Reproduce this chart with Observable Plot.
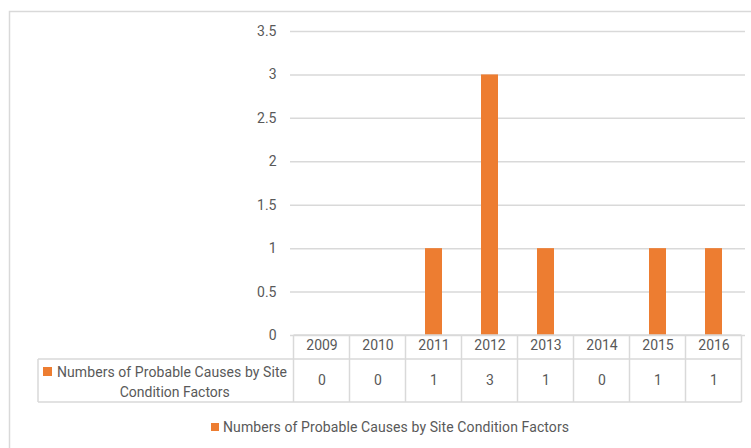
<!DOCTYPE html>
<html>
<head>
<meta charset="utf-8">
<script src="https://cdn.jsdelivr.net/npm/d3@7"></script>
<script src="https://cdn.jsdelivr.net/npm/@observablehq/plot@0.6"></script>
<style>
  html, body { margin: 0; padding: 0; background: #fff; }
  #chart { width: 751px; height: 448px; }
</style>
</head>
<body>
<div id="chart"></div>
<script>
const years = ["2009", "2010", "2011", "2012", "2013", "2014", "2015", "2016"];
const values = [0, 0, 1, 3, 1, 0, 1, 1];
const seriesName = "Numbers of Probable Causes by Site Condition Factors";
const rowLabelLines = ["Numbers of Probable Causes by Site", "Condition Factors"];
const yTicks = [0, 0.5, 1, 1.5, 2, 2.5, 3, 3.5];

const data = years.map((year, i) => ({year, value: values[i]}));

const FONT = "Roboto, 'Open Sans', sans-serif";
const TEXT = "#595959";
const LINE = "#d9d9d9";
const BAR = "#ED7D31";

const W = 751, H = 448;
const mTop = 31, mBottom = 113, mLeft = 290, mRight = 6;

const plot = Plot.plot({
  width: W,
  height: H,
  marginTop: mTop,
  marginBottom: mBottom,
  marginLeft: mLeft,
  marginRight: mRight,
  style: {fontFamily: FONT, fontSize: "14px", color: TEXT, background: "transparent"},
  x: {domain: years, paddingInner: 0.7, paddingOuter: 0.35, axis: null},
  y: {domain: [0, 3.5], ticks: yTicks},
  marks: [
    Plot.gridY(yTicks, {stroke: LINE, strokeOpacity: 1, strokeWidth: 1.5}),
    Plot.barY(data, {x: "year", y: "value", fill: BAR}),
    Plot.axisY(yTicks, {tickSize: 0, tickPadding: 14, fill: TEXT, fontSize: 14, label: null, tickFormat: d => String(d)}),
    Plot.text(data, {x: "year", text: "year", frameAnchor: "bottom", dy: 14, fill: TEXT, fontSize: 14}),
    Plot.text(data, {x: "year", text: d => String(d.value), frameAnchor: "bottom", dy: 49, fill: TEXT, fontSize: 14})
  ]
});

document.getElementById("chart").appendChild(plot);

// Table grid and legend drawn from the plot's own scales
const xs = plot.scale("x");
const ys = plot.scale("y");
const step = xs.step, bw = xs.bandwidth;
const colLeft = d => xs.apply(d) + bw / 2 - step / 2;
const x0 = colLeft(years[0]);
const x1 = colLeft(years[years.length - 1]) + step;
const yAxis = ys.apply(0);
const headBottom = yAxis + 24;
const rowBottom = yAxis + 67;
const tableLeft = 38;

const svg = d3.select(plot);
// outer chart border
svg.insert("rect", ":first-child")
  .attr("x", 9.5).attr("y", 11.5).attr("width", W).attr("height", H)
  .attr("fill", "none").attr("stroke", LINE).attr("stroke-width", 1.5);

const g = svg.append("g").attr("stroke", LINE).attr("stroke-width", 1.5).attr("fill", "none");
g.append("line").attr("x1", x0).attr("x2", x1).attr("y1", yAxis).attr("y2", yAxis);
g.append("line").attr("x1", tableLeft).attr("x2", x1).attr("y1", headBottom).attr("y2", headBottom);
g.append("line").attr("x1", tableLeft).attr("x2", x1).attr("y1", rowBottom).attr("y2", rowBottom);
years.forEach(y => {
  g.append("line").attr("x1", colLeft(y)).attr("x2", colLeft(y)).attr("y1", yAxis).attr("y2", rowBottom);
});
g.append("line").attr("x1", x1).attr("x2", x1).attr("y1", yAxis).attr("y2", rowBottom);
g.append("line").attr("x1", tableLeft).attr("x2", tableLeft).attr("y1", headBottom).attr("y2", rowBottom);

// row label
const cellMid = (tableLeft + x0) / 2;
const t = svg.append("g").attr("font-family", FONT).attr("font-size", 14).attr("fill", TEXT).attr("text-anchor", "start");
t.append("rect").attr("x", 43).attr("y", 367).attr("width", 9).attr("height", 9).attr("fill", BAR);
t.append("text").attr("x", 57).attr("y", 372).attr("dy", "0.35em")
  .attr("textLength", 230).attr("lengthAdjust", "spacing").text(rowLabelLines[0]);
t.append("text").attr("x", cellMid + 9).attr("y", 392).attr("dy", "0.35em").attr("text-anchor", "middle").text(rowLabelLines[1]);

// legend
t.append("rect").attr("x", 211).attr("y", 423).attr("width", 8).attr("height", 8).attr("fill", BAR);
t.append("text").attr("x", 223).attr("y", 427).attr("dy", "0.35em")
  .attr("textLength", 346).attr("lengthAdjust", "spacing").text(seriesName);
</script>
</body>
</html>
